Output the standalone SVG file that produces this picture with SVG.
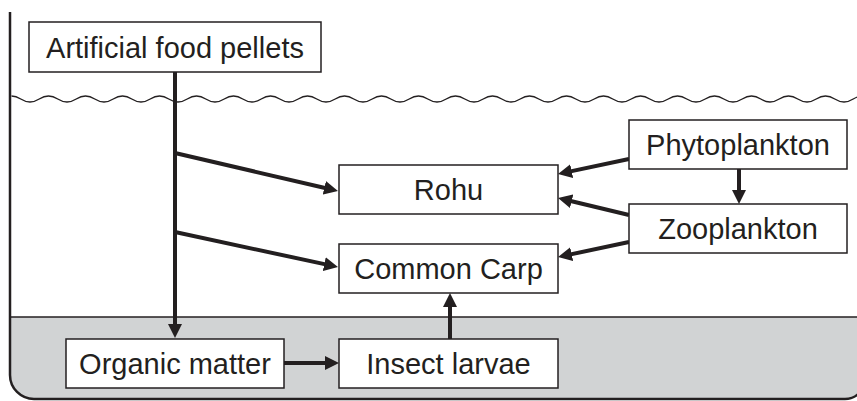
<svg xmlns="http://www.w3.org/2000/svg" width="857" height="401" viewBox="0 0 857 401">
<style>
.box{fill:#fff;stroke:#231f20;stroke-width:1.5}
.lbl{font-family:"Liberation Sans",Arial,sans-serif;font-size:29px;fill:#231f20;text-anchor:middle}
.con{stroke:#231f20;stroke-width:4;fill:none;marker-end:url(#ah)}
.edge{stroke:#231f20;fill:none}
</style>
<defs>
<marker id="ah" viewBox="0 0 14 14" refX="8.5" refY="7" markerWidth="14" markerHeight="14" markerUnits="userSpaceOnUse" orient="auto">
<path d="M0,0 L14,7 L0,14 z" fill="#231f20"/>
</marker>
</defs>
<rect width="857" height="401" fill="#fff"/>
<g id="pond">
<path d="M10,317 V375 A24,24 0 0 0 34,399 H845 A20,20 0 0 0 865,379 V317 Z" fill="#d1d3d4"/>
<path class="edge" stroke-width="1.5" d="M10,317 H857"/>
<path class="edge" stroke-width="2.5" d="M10,12 V375 A24,24 0 0 0 34,399 H845 A20,20 0 0 0 865,379"/>
<path class="edge" stroke-width="1.3" d="M11.5,96 c9,0 9.5,6 18.5,6 s9.5,-6 18.5,-6 s9.5,6 18.5,6 s9.5,-6 18.5,-6 s9.5,6 18.5,6 s9.5,-6 18.5,-6 s9.5,6 18.5,6 s9.5,-6 18.5,-6 s9.5,6 18.5,6 s9.5,-6 18.5,-6 s9.5,6 18.5,6 s9.5,-6 18.5,-6 s9.5,6 18.5,6 s9.5,-6 18.5,-6 s9.5,6 18.5,6 s9.5,-6 18.5,-6 s9.5,6 18.5,6 s9.5,-6 18.5,-6 s9.5,6 18.5,6 s9.5,-6 18.5,-6 s9.5,6 18.5,6 s9.5,-6 18.5,-6 s9.5,6 18.5,6 s9.5,-6 18.5,-6 s9.5,6 18.5,6 s9.5,-6 18.5,-6 s9.5,6 18.5,6 s9.5,-6 18.5,-6 s9.5,6 18.5,6 s9.5,-6 18.5,-6 s9.5,6 18.5,6 s9.5,-6 18.5,-6 s9.5,6 18.5,6 s9.5,-6 18.5,-6 s9.5,6 18.5,6 s9.5,-6 18.5,-6 s9.5,6 18.5,6 s9.5,-6 18.5,-6 s9.5,6 18.5,6 s9.5,-6 18.5,-6 s9.5,6 18.5,6 s9.5,-6 18.5,-6 s9.5,6 18.5,6 s9.5,-6 18.5,-6 s9.5,6 18.5,6 s9.5,-6 18.5,-6"/>
</g>
<g id="connectors">
<path class="con" stroke-width="5" d="M175,72 V332.5"/>
<path class="con" d="M175,153 L332.6,189.8"/>
<path class="con" d="M175,232 L332.6,265.9"/>
<path class="con" d="M629,159 L563.4,172.9"/>
<path class="con" d="M739,169 V198.5"/>
<path class="con" d="M629,215 L563.4,199.3"/>
<path class="con" d="M629,242 L563.4,255.9"/>
<path class="con" d="M284,363 H333.5"/>
<path class="con" d="M450,339 V298.5"/>
</g>
<g id="pellets"><rect class="box" x="29" y="22" width="292" height="50"/><text class="lbl" x="175" y="57.5">Artificial food pellets</text></g>
<g id="rohu"><rect class="box" x="339" y="165" width="219" height="49"/><text class="lbl" x="448.5" y="200">Rohu</text></g>
<g id="carp"><rect class="box" x="339" y="244" width="219" height="49"/><text class="lbl" x="448.5" y="279">Common Carp</text></g>
<g id="phyto"><rect class="box" x="629" y="120" width="218" height="49"/><text class="lbl" x="738" y="155">Phytoplankton</text></g>
<g id="zoo"><rect class="box" x="629" y="204" width="218" height="49"/><text class="lbl" x="738" y="239">Zooplankton</text></g>
<g id="organic"><rect class="box" x="66" y="339" width="218" height="49"/><text class="lbl" x="175" y="374">Organic matter</text></g>
<g id="insect"><rect class="box" x="339" y="339" width="219" height="49"/><text class="lbl" x="448.5" y="374">Insect larvae</text></g>
</svg>
